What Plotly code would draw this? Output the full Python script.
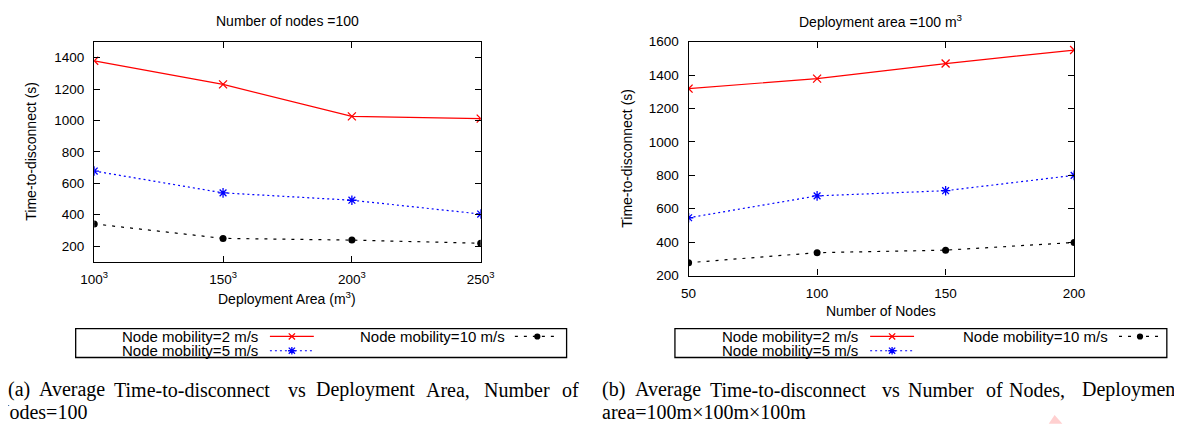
import plotly.graph_objects as go

# ---------------- data ----------------
area_x = [100, 150, 200, 250]
area_ticktext = ["100<sup>3</sup>", "150<sup>3</sup>", "200<sup>3</sup>", "250<sup>3</sup>"]
area_v2 = [1380, 1230, 1026, 1012]
area_v5 = [678, 539, 492, 404]
area_v10 = [341, 249, 238, 218]

nodes_x = [50, 100, 150, 200]
nodes_ticktext = ["50", "100", "150", "200"]
nodes_v2 = [1319, 1379, 1469, 1550]
nodes_v5 = [546, 677, 708, 800]
nodes_v10 = [277, 337, 352, 398]

series_names = ["Node mobility=2 m/s", "Node mobility=5 m/s", "Node mobility=10 m/s"]

# ---------------- helpers ----------------
PAGE_W, PAGE_H = 1182, 432
BODY_MARGIN = 8  # default page body margin
W, H = PAGE_W - 2 * BODY_MARGIN, PAGE_H - 2 * BODY_MARGIN

def X(p):
    return (p - BODY_MARGIN) / W
def Y(p):
    return 1 - (p - BODY_MARGIN) / H

SANS = "Liberation Sans, Arial, Helvetica, sans-serif"
SERIF = "Liberation Serif, Times New Roman, serif"
RED, BLUE, BLACK = "#ff0000", "#0000ff", "#000000"

styles = [
    dict(color=RED, dash="solid", symbol="x-thin-open", size=8, lw=1.3),
    dict(color=BLUE, dash="2px,3px", symbol="asterisk-open", size=8, lw=1.3),
    dict(color=BLACK, dash="3px,6px", symbol="circle", size=7, lw=0),
]

fig = go.Figure()

def add_series(xs, ys, st, name, xa, ya):
    fig.add_trace(go.Scatter(
        x=xs, y=ys, mode="lines+markers", name=name, showlegend=False,
        xaxis=xa, yaxis=ya,
        line=dict(color=st["color"], width=1.2, dash=st["dash"]),
        marker=dict(symbol=st["symbol"], size=st["size"], color=st["color"],
                    line=dict(color=st["color"], width=st["lw"])),
    ))

for ys, st, nm in zip([area_v2, area_v5, area_v10], styles, series_names):
    add_series(area_x, ys, st, nm, "x", "y")
for ys, st, nm in zip([nodes_v2, nodes_v5, nodes_v10], styles, series_names):
    add_series(nodes_x, ys, st, nm, "x2", "y2")

axis_common = dict(
    showline=True, linecolor="black", linewidth=1.3, mirror="allticks",
    ticks="inside", ticklen=6, tickwidth=1, tickcolor="black",
    showgrid=False, zeroline=False,
    tickfont=dict(family=SANS, size=13.5, color="black"),
)

fig.update_layout(
    width=W, height=H, autosize=False,
    margin=dict(l=0, r=0, t=0, b=0, pad=0),
    paper_bgcolor="white", plot_bgcolor="white",
    showlegend=False,
    xaxis=dict(domain=[X(82), X(478)], range=[100, 250], tickmode="array",
               tickvals=area_x, ticktext=area_ticktext, anchor="y",
               ticklabelstandoff=5, **axis_common),
    yaxis=dict(domain=[Y(264), Y(36)], range=[100, 1500], tick0=200, dtick=200,
               anchor="x", ticklabelstandoff=6, **axis_common),
    xaxis2=dict(domain=[X(691), X(1086)], range=[50, 200], tickmode="array",
                tickvals=nodes_x, ticktext=nodes_ticktext, anchor="y2",
                ticklabelstandoff=5, **axis_common),
    yaxis2=dict(domain=[Y(278.3), Y(35.7)], range=[200, 1600], tick0=200, dtick=200,
                anchor="x2", ticklabelstandoff=6, **axis_common),
)

annotations = []
def txt(text, x, y, size=14, family=SANS, xanchor="center", yanchor="middle", angle=0):
    annotations.append(dict(
        text=text, x=X(x), y=Y(y), xref="paper", yref="paper",
        xanchor=xanchor, yanchor=yanchor, showarrow=False, textangle=angle,
        font=dict(family=family, size=size, color="black"),
    ))

# titles and axis titles
txt("Number of nodes =100", 280, 14)
txt("Deployment area =100 m<sup>3</sup>", 888, 14)
txt("Time-to-disconnect (s)", 17, 149, angle=-90)
txt("Time-to-disconnect (s)", 627, 157, angle=-90)
txt("Deployment Area (m<sup>3</sup>)", 280, 302)
txt("Number of Nodes", 888, 315)

shapes = []

def legend_box(x0, x1, text_end1, sample1, text_end2, sample2):
    shapes.append(dict(type="rect", xref="paper", yref="paper",
                       x0=X(x0), x1=X(x1), y0=Y(363.3), y1=Y(333.3),
                       line=dict(color="black", width=1.3)))
    rows = [(text_end1, sample1, 341.5, 0), (text_end1, sample1, 356.3, 1),
            (text_end2, sample2, 341.5, 2)]
    for tend, (s0, s1), yy, idx in rows:
        st = styles[idx]
        txt(series_names[idx], tend, yy, size=15, xanchor="right")
        shapes.append(dict(type="line", xref="paper", yref="paper",
                           x0=X(s0), x1=X(s1), y0=Y(yy), y1=Y(yy),
                           line=dict(color=st["color"], width=1.2, dash=st["dash"])))
        cx = (s0 + s1) / 2
        r = 3.2
        if idx == 0:
            path = (f"M {X(cx-r)},{Y(yy-r)} L {X(cx+r)},{Y(yy+r)} "
                    f"M {X(cx-r)},{Y(yy+r)} L {X(cx+r)},{Y(yy-r)}")
            shapes.append(dict(type="path", xref="paper", yref="paper", path=path,
                               line=dict(color=st["color"], width=1.3)))
        elif idx == 1:
            path = (f"M {X(cx-r)},{Y(yy-r)} L {X(cx+r)},{Y(yy+r)} "
                    f"M {X(cx-r)},{Y(yy+r)} L {X(cx+r)},{Y(yy-r)} "
                    f"M {X(cx-r-0.7)},{Y(yy)} L {X(cx+r+0.7)},{Y(yy)} "
                    f"M {X(cx)},{Y(yy-r-0.7)} L {X(cx)},{Y(yy+r+0.7)}")
            shapes.append(dict(type="path", xref="paper", yref="paper", path=path,
                               line=dict(color=st["color"], width=1.3)))
        else:
            shapes.append(dict(type="circle", xref="paper", yref="paper",
                               x0=X(cx-3.2), x1=X(cx+3.2), y0=Y(yy+3.2), y1=Y(yy-3.2),
                               fillcolor="black", line=dict(color="black", width=0)))

legend_box(63, 566, 252, (262, 307), 505, (513, 559))
legend_box(677, 1181, 867, (877, 922), 1123, (1132, 1175))

# captions (justified lines rebuilt word by word)
cap_a1 = ["Average", "Time-to-disconnect", "vs", "Deployment", "Area,", "Number", "of"]
cap_a1_x = [23, 100, 278, 307, 420, 479, 559]
cap_b1 = ["(b)", "Average", "Time-to-disconnect", "vs", "Number", "of", "Nodes,", "Deployment"]
cap_b1_x = [600, 634, 711, 887, 914, 994, 1017, 1092]

txt("(a)", 18, 397, size=20, family=SERIF, xanchor="right")
for w, xx in zip(cap_a1, cap_a1_x):
    txt(w, xx, 397, size=20, family=SERIF, xanchor="left")
txt("Nodes=100", 77, 420, size=20, family=SERIF, xanchor="right")
for w, xx in zip(cap_b1, cap_b1_x):
    txt(w, xx, 397, size=20, family=SERIF, xanchor="left")
txt("area=100m\u00d7100m\u00d7100m", 600, 420, size=20, family=SERIF, xanchor="left")

# faint watermark fragment
shapes.append(dict(type="path", xref="paper", yref="paper",
                   path=f"M {X(1060)},{Y(432)} L {X(1066)},{Y(423)} L {X(1074)},{Y(432)} Z",
                   fillcolor="#ffd0d0", line=dict(width=0)))

fig.update_layout(annotations=annotations, shapes=shapes)

fig.write_html("out.html", config={"displayModeBar": False})
